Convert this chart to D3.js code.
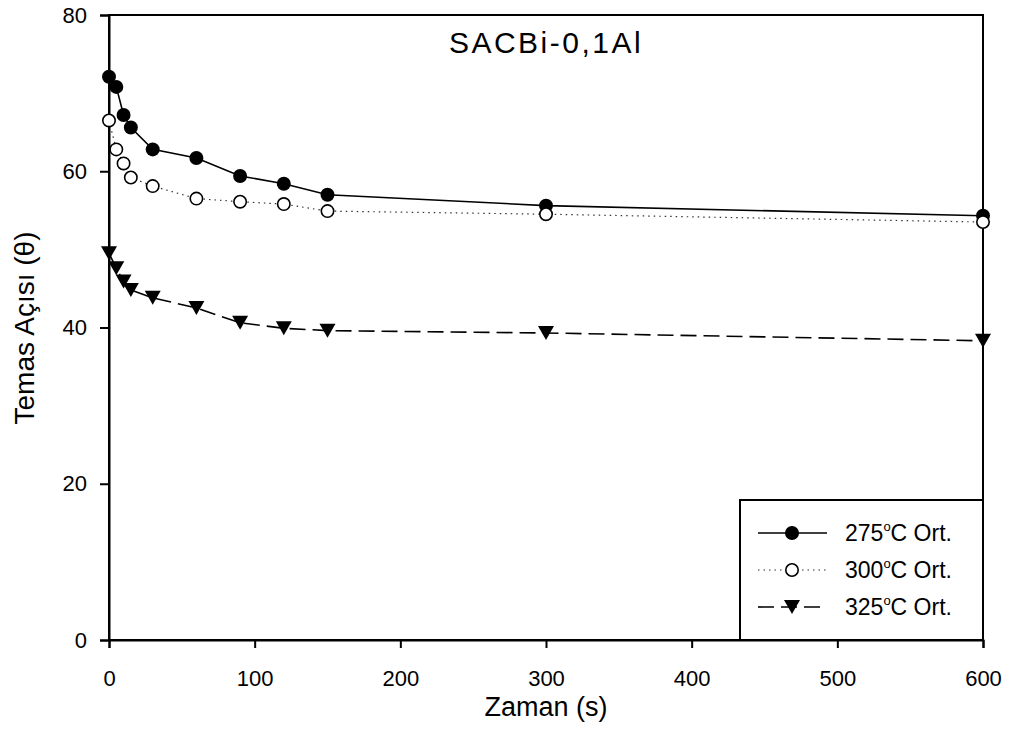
<!DOCTYPE html>
<html>
<head>
<meta charset="utf-8">
<script src="https://cdn.jsdelivr.net/npm/d3@7"></script>
<style>
  html, body { margin: 0; padding: 0; background: #fff; }
  svg { display: block; font-family: "Liberation Sans", Arial, sans-serif; }
</style>
</head>
<body>
<svg id="chart" width="1011" height="752"></svg>
<script>
// Contact angle vs. time, SACBi-0,1Al solder at three temperatures
const times = [0, 5, 10, 15, 30, 60, 90, 120, 150, 300, 600];
const angle275 = [72.1, 70.8, 67.2, 65.6, 62.8, 61.7, 59.4, 58.4, 57.0, 55.6, 54.3];
const angle300 = [66.5, 62.8, 61.0, 59.2, 58.1, 56.5, 56.1, 55.8, 54.9, 54.5, 53.5];
const angle325 = [49.5, 47.6, 45.9, 44.8, 43.8, 42.5, 40.6, 39.9, 39.6, 39.3, 38.3];
const xTicks = [0, 100, 200, 300, 400, 500, 600];
const yTicks = [0, 20, 40, 60, 80];
const seriesNames = ["275", "300", "325"];

const svg = d3.select("#chart");
const plotL = 109, plotR = 983, plotT = 15, plotB = 640;

const x = d3.scaleLinear().domain([0, 600]).range([plotL, plotR]);
const y = d3.scaleLinear().domain([0, 80]).range([plotB, plotT]);

// frame
svg.append("rect")
  .attr("x", plotL).attr("y", plotT)
  .attr("width", plotR - plotL).attr("height", plotB - plotT)
  .attr("fill", "none").attr("stroke", "#000").attr("stroke-width", 2);

// axes
const xAxis = svg.append("g").attr("transform", `translate(0,${plotB})`)
  .call(d3.axisBottom(x).tickValues(xTicks).tickSize(8).tickPadding(22).tickFormat(d3.format("d")));
const yAxis = svg.append("g").attr("transform", `translate(${plotL},0)`)
  .call(d3.axisLeft(y).tickValues(yTicks).tickSize(9).tickPadding(13).tickFormat(d3.format("d")));
[xAxis, yAxis].forEach(a => {
  a.select(".domain").attr("stroke", "#000").attr("stroke-width", 2);
  a.selectAll(".tick line").attr("stroke", "#000").attr("stroke-width", 2);
  a.selectAll(".tick text").attr("fill", "#000")
    .style("font-family", "'Liberation Sans', Arial, sans-serif").style("font-size", "22px");
});

// axis titles
svg.append("text")
  .attr("x", (plotL + plotR) / 2).attr("y", 716)
  .attr("text-anchor", "middle").style("font-size", "27px")
  .text("Zaman (s)");
svg.append("text")
  .attr("transform", "translate(34,328) rotate(-90)")
  .attr("text-anchor", "middle").style("font-size", "28px")
  .text("Temas Açısı (θ)");

// panel title
svg.append("text")
  .attr("x", 546).attr("y", 53)
  .attr("text-anchor", "middle").style("font-size", "30px")
  .style("letter-spacing", "2.5px")
  .text("SACBi-0,1Al");

// series definitions
const styles = {
  "275": { vals: angle275, dash: null, stroke: "#000", width: 1.6 },
  "300": { vals: angle300, dash: "1.5,4", stroke: "#333", width: 1.2 },
  "325": { vals: angle325, dash: "16,7", stroke: "#000", width: 1.6 }
};

const line = d3.line().x(d => x(d.t)).y(d => y(d.v));

function drawMarker(g, name, cx, cy) {
  if (name === "275") {
    g.append("circle").attr("cx", cx).attr("cy", cy).attr("r", 7).attr("fill", "#000");
  } else if (name === "300") {
    g.append("circle").attr("cx", cx).attr("cy", cy).attr("r", 6.2)
      .attr("fill", "#fff").attr("stroke", "#000").attr("stroke-width", 1.6);
  } else {
    const w = 8, h = 7;
    g.append("path")
      .attr("d", `M${cx - w},${cy - h}L${cx + w},${cy - h}L${cx},${cy + h}Z`)
      .attr("fill", "#000");
  }
}

seriesNames.forEach(name => {
  const s = styles[name];
  const pts = times.map((t, i) => ({ t, v: s.vals[i] }));
  svg.append("path").datum(pts)
    .attr("d", line)
    .attr("fill", "none").attr("stroke", s.stroke)
    .attr("stroke-width", s.width)
    .attr("stroke-dasharray", s.dash);
  const g = svg.append("g");
  pts.forEach(p => drawMarker(g, name, x(p.t), y(p.v)));
});

// legend
const lg = svg.append("g");
lg.append("rect").attr("x", 740).attr("y", 500).attr("width", 243).attr("height", 140)
  .attr("fill", "#fff").attr("stroke", "#000").attr("stroke-width", 2);
const rowY = [533, 570, 607];
seriesNames.forEach((name, i) => {
  const s = styles[name];
  const yy = rowY[i];
  lg.append("line").attr("x1", 758).attr("x2", 827).attr("y1", yy).attr("y2", yy)
    .attr("stroke", s.stroke).attr("stroke-width", s.width)
    .attr("stroke-dasharray", s.dash);
  drawMarker(lg, name, 792, yy);
  const t = lg.append("text").attr("x", 845).attr("y", yy + 8).style("font-size", "23px");
  t.append("tspan").text(name);
  t.append("tspan").attr("dy", -10).style("font-size", "13px").text("o");
  t.append("tspan").attr("dy", 10).text("C Ort.");
});
</script>
</body>
</html>
